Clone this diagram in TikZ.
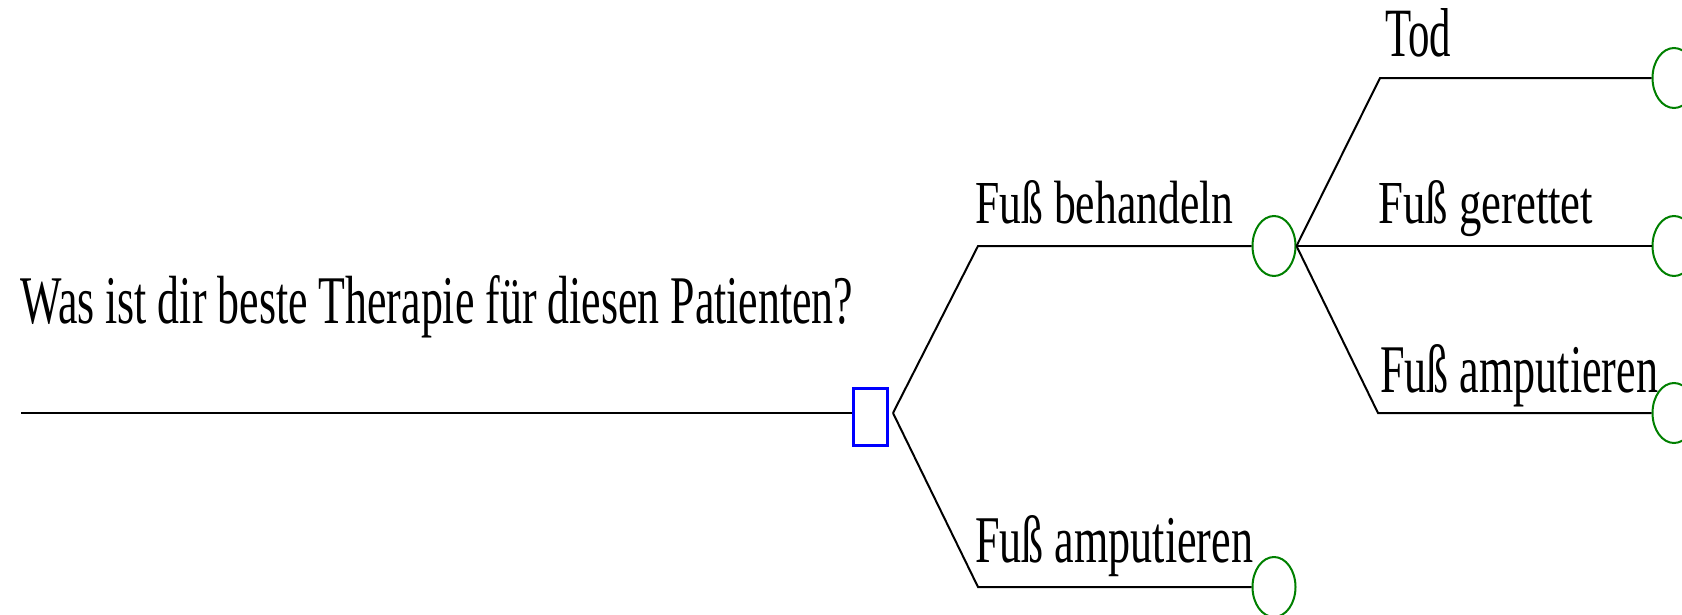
\documentclass[tikz,border=0pt]{standalone}
\usepackage{graphicx}
\usepackage{fontspec}
\setmainfont{Liberation Serif}
\usetikzlibrary{shapes.geometric}
\definecolor{boxblue}{RGB}{0,0,255}
\definecolor{chancegreen}{RGB}{0,128,0}
% label text squeezed to a given width and height
\newcommand{\fitlabel}[3]{\resizebox{#1}{#2}{#3}}
\begin{document}
\begin{tikzpicture}[x=1pt,y=-1pt,
  edge/.style={draw=black,line width=2pt},
  decision/.style={rectangle,draw=boxblue,line width=3pt,minimum width=34pt,minimum height=57pt,inner sep=0pt},
  chance/.style={ellipse,draw=chancegreen,line width=2pt,minimum width=43pt,minimum height=60pt,inner sep=0pt},
  lbl/.style={anchor=base west,inner sep=0pt}]
\useasboundingbox (0,0) rectangle (1682,614);
\clip (0,0) rectangle (1682,614);
\fill[white] (0,0) rectangle (1682,614);

% decision node and chance nodes
\node[decision] (dec) at (870.5,417) {};
\node[chance] (c1) at (1274,246) {};
\node[chance] (c2) at (1274,587) {};
\node[chance] (t1) at (1674,78) {};
\node[chance] (t2) at (1674,246) {};
\node[chance] (t3) at (1674,413) {};

% bend points of the branches
\coordinate (start) at (21,413);
\coordinate (fork) at (893,413);
\coordinate (b1) at (978,246);
\coordinate (b2) at (978,587);
\coordinate (u1) at (1380,78);
\coordinate (u3) at (1378,413);

% connectors
\draw[edge] (start) -- (start -| dec.west);
\draw[edge] (fork) -- (b1) -- (c1.west);
\draw[edge] (fork) -- (b2) -- (c2.west);
\draw[edge] (c1.east) -- (u1) -- (t1.west);
\draw[edge] (c1.east) -- (t2.west);
\draw[edge] (c1.east) -- (u3) -- (t3.west);

% labels
\node[lbl] (q) at (20,323) {\fitlabel{833pt}{48pt}{Was ist dir beste Therapie für diesen Patienten?}};
\node[lbl] (l1) at (975,223) {\fitlabel{258pt}{43pt}{Fuß behandeln}};
\node[lbl] (l2) at (975,562) {\fitlabel{278pt}{47pt}{Fuß amputieren}};
\node[lbl] (l3) at (1385,56) {\fitlabel{66pt}{48pt}{Tod}};
\node[lbl] (l4) at (1378,223) {\fitlabel{215pt}{43pt}{Fuß gerettet}};
\node[lbl] (l5) at (1380,392) {\fitlabel{278pt}{48pt}{Fuß amputieren}};
\end{tikzpicture}
\end{document}
